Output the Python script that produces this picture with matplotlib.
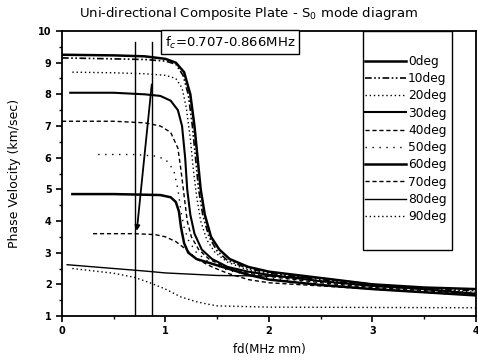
import matplotlib
matplotlib.use("Agg")
import matplotlib.pyplot as plt
from matplotlib.ticker import MultipleLocator
from matplotlib.patches import Rectangle

labels = ["0deg", "10deg", "20deg", "30deg", "40deg", "50deg", "60deg", "70deg", "80deg", "90deg"]

x0 = [0, 0.5, 0.8, 1.0, 1.1, 1.18, 1.24, 1.28, 1.31, 1.34, 1.38, 1.44, 1.52, 1.62, 1.8, 2.0, 2.5, 3.0, 3.5, 4.0]
y0 = [9.25, 9.23, 9.2, 9.12, 9.0, 8.7, 8.0, 7.0, 6.0, 5.0, 4.2, 3.5, 3.1, 2.8, 2.55, 2.4, 2.2, 2.0, 1.9, 1.85]
x10 = [0, 0.5, 0.8, 1.0, 1.1, 1.17, 1.22, 1.26, 1.29, 1.32, 1.36, 1.42, 1.5, 1.6, 1.8, 2.0, 2.5, 3.0, 3.5, 4.0]
y10 = [9.15, 9.12, 9.1, 9.05, 8.95, 8.6, 8.0, 7.0, 6.0, 5.0, 4.2, 3.5, 3.05, 2.75, 2.5, 2.35, 2.15, 1.95, 1.85, 1.8]
x20 = [0.1, 0.5, 0.8, 1.0, 1.1, 1.16, 1.2, 1.24, 1.27, 1.3, 1.34, 1.4, 1.48, 1.6, 1.8, 2.0, 2.5, 3.0, 3.5, 4.0]
y20 = [8.7, 8.68, 8.65, 8.6, 8.5, 8.2, 7.6, 6.6, 5.6, 4.8, 4.0, 3.4, 3.0, 2.7, 2.45, 2.3, 2.1, 1.95, 1.85, 1.75]
x30 = [0.08, 0.5, 0.8, 0.95, 1.05, 1.12, 1.16, 1.19, 1.21, 1.24, 1.28, 1.35, 1.45, 1.6, 1.8, 2.0, 2.5, 3.0, 3.5, 4.0]
y30 = [8.05, 8.05, 8.0, 7.95, 7.8, 7.5, 7.0, 6.0, 5.0, 4.2, 3.6, 3.1, 2.8, 2.55, 2.4, 2.3, 2.1, 1.95, 1.85, 1.7]
x40 = [0, 0.5, 0.8, 0.95, 1.05, 1.12, 1.15, 1.18, 1.21, 1.25, 1.32, 1.42, 1.6, 1.8, 2.0, 2.5, 3.0, 3.5, 4.0]
y40 = [7.15, 7.15, 7.1, 7.0, 6.8, 6.3, 5.6, 4.8, 4.0, 3.5, 3.1, 2.8, 2.5, 2.35, 2.25, 2.05, 1.9, 1.8, 1.7]
x50 = [0.35, 0.7, 0.9, 1.0, 1.08, 1.12, 1.15, 1.18, 1.22, 1.3, 1.42, 1.6, 1.8, 2.0, 2.5, 3.0, 3.5, 4.0]
y50 = [6.1, 6.1, 6.05, 5.95, 5.6, 5.0, 4.3, 3.8, 3.4, 3.0, 2.7, 2.45, 2.3, 2.2, 2.0, 1.9, 1.8, 1.7]
x60 = [0.1, 0.5, 0.8, 0.95, 1.05, 1.1, 1.13, 1.15, 1.18, 1.22, 1.3, 1.45, 1.6, 1.8, 2.0, 2.5, 3.0, 3.5, 4.0]
y60 = [4.85, 4.85, 4.83, 4.82, 4.75, 4.6, 4.3, 3.8, 3.3, 3.0, 2.8, 2.65, 2.5, 2.3, 2.15, 1.98, 1.85, 1.75, 1.65]
x70 = [0.3, 0.7, 0.9, 1.0, 1.1, 1.2, 1.3, 1.45, 1.6, 1.8, 2.0, 2.5, 3.0, 3.5, 4.0]
y70 = [3.6, 3.6, 3.57, 3.5, 3.35, 3.1, 2.8, 2.55, 2.35, 2.15, 2.05, 1.95, 1.85, 1.75, 1.65]
x80 = [0.05, 0.5, 0.8, 1.0, 1.5, 2.0, 2.5, 3.0, 3.5, 4.0]
y80 = [2.62, 2.5, 2.42, 2.36, 2.28, 2.26, 2.2, 2.0, 1.85, 1.7]
x90 = [0.1, 0.5, 0.7, 0.85, 1.0, 1.15, 1.3, 1.4, 1.5, 2.0, 3.0, 4.0]
y90 = [2.5, 2.35, 2.22, 2.05, 1.85, 1.6, 1.45, 1.38, 1.32, 1.28, 1.27, 1.26]

xs = [x0, x10, x20, x30, x40, x50, x60, x70, x80, x90]
ys = [y0, y10, y20, y30, y40, y50, y60, y70, y80, y90]

fc_lines = [0.707, 0.866]
arrow_start = (0.87, 8.4)
arrow_end = (0.72, 3.6)

styles = [
    dict(ls="-", lw=1.8),
    dict(ls=(0, (4, 1.5, 1, 1.5, 1, 1.5)), lw=1.2),
    dict(ls=(0, (1, 2)), lw=1.0),
    dict(ls="-", lw=1.5),
    dict(ls=(0, (3, 2)), lw=1.0),
    dict(ls=(0, (1, 4)), lw=1.0),
    dict(ls="-", lw=1.8),
    dict(ls=(0, (3, 2)), lw=1.0),
    dict(ls="-", lw=1.0),
    dict(ls=(0, (1, 2)), lw=1.0),
]

fig = plt.figure(figsize=(4.78, 3.6), dpi=100)
ax = fig.add_axes([0.1297, 0.1222, 0.866, 0.7917])

for x, y, lab, st in zip(xs, ys, labels, styles):
    ax.plot(x, y, color="black", label=lab, **st)

for xv in fc_lines:
    ax.plot([xv, xv], [1, 9.65], color="black", lw=1.0)
ax.annotate("", xy=arrow_end, xytext=arrow_start,
            arrowprops=dict(arrowstyle="-|>", color="black", lw=1.3, mutation_scale=7))

ax.set_xlim(0, 4)
ax.set_ylim(1, 10)
ax.xaxis.set_major_locator(MultipleLocator(1))
ax.xaxis.set_minor_locator(MultipleLocator(0.5))
ax.yaxis.set_major_locator(MultipleLocator(1))
ax.yaxis.set_minor_locator(MultipleLocator(0.5))
ax.tick_params(which="major", direction="out", length=4, width=1.2, labelsize=7)
ax.tick_params(which="minor", direction="out", length=2, width=1)
for lbl in ax.get_xticklabels() + ax.get_yticklabels():
    lbl.set_fontweight("bold")
for sp in ax.spines.values():
    sp.set_linewidth(1.3)

fig.text(248 / 478, 1 - 14 / 360, "Uni-directional Composite Plate - S$_0$ mode diagram",
         fontsize=9.5, ha="center", va="center")
ax.set_xlabel("fd(MHz mm)", fontsize=8.5, labelpad=5)
ax.set_ylabel("Phase Velocity (km/sec)", fontsize=9, labelpad=12)

ax.text(0.248, 0.988, "f$_c$=0.707-0.866MHz", transform=ax.transAxes, fontsize=9.5,
        va="top", ha="left",
        bbox=dict(boxstyle="square,pad=0.3", fc="white", ec="black", lw=1.0))

ax.add_patch(Rectangle((0.727, 0.232), 0.215, 0.768, transform=ax.transAxes,
                       fill=True, fc="white", ec="black", lw=1.0, zorder=4))
leg = ax.legend(loc="upper left", bbox_to_anchor=(0.727, 0.925), fontsize=8.8,
                labelspacing=0.35, borderpad=0.2, handlelength=3.3, handletextpad=0.2,
                frameon=False, borderaxespad=0)
leg.set_zorder(5)

fig.savefig("out.png", dpi=100)
